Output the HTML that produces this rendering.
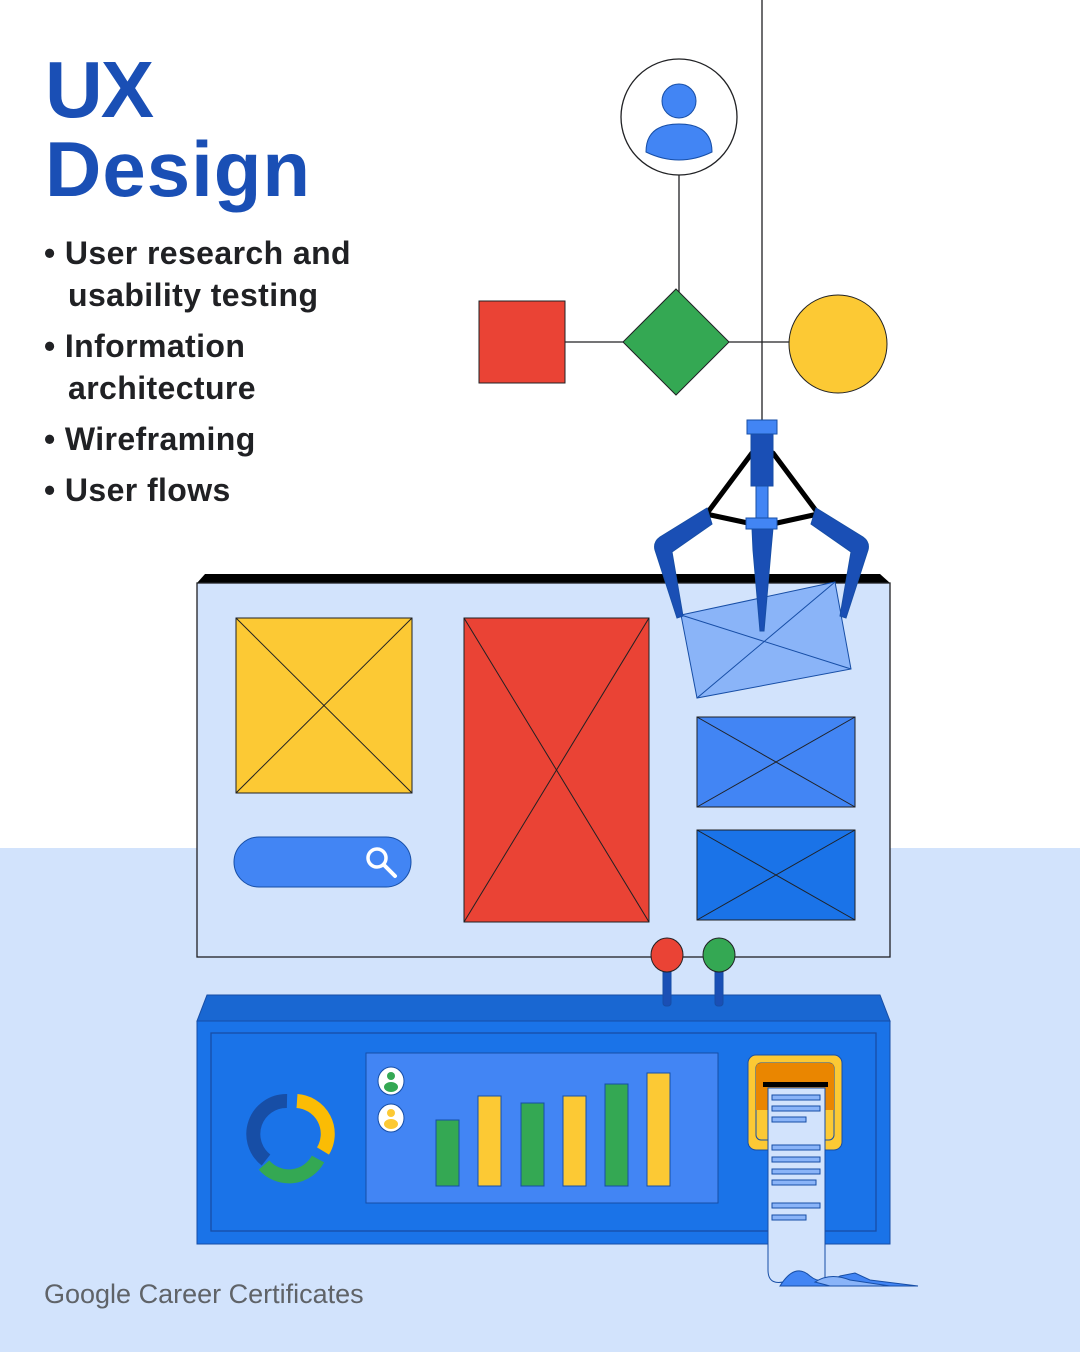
<!DOCTYPE html>
<html><head><meta charset="utf-8"><style>
html,body{margin:0;padding:0;width:1080px;height:1352px;overflow:hidden;background:#fff}
svg{display:block}
</style></head><body>
<svg width="1080" height="1352" viewBox="0 0 1080 1352" xmlns="http://www.w3.org/2000/svg" font-family="Liberation Sans, sans-serif">
<rect x="0" y="0" width="1080" height="848" fill="#fff"/>
<rect x="0" y="848" width="1080" height="504" fill="#d2e3fc"/>
<text x="45" y="117" font-size="80" font-weight="bold" fill="#1a4fb5" letter-spacing="-2">UX</text>
<text x="45" y="196" font-size="78" font-weight="bold" fill="#1a4fb5" letter-spacing="1">Design</text>
<g font-size="32" font-weight="bold" fill="#202124" letter-spacing="0.4">
<text x="44" y="264">• User research and</text>
<text x="68" y="306">usability testing</text>
<text x="44" y="357">• Information</text>
<text x="68" y="399">architecture</text>
<text x="44" y="450">• Wireframing</text>
<text x="44" y="501">• User flows</text>
</g>
<g stroke="#202124" stroke-width="1.3" fill="none">
<line x1="762" y1="0" x2="762" y2="420"/>
<line x1="679" y1="175" x2="679" y2="292"/>
<line x1="565" y1="342" x2="790" y2="342"/>
</g>
<circle cx="679" cy="117" r="58" fill="#fff" stroke="#202124" stroke-width="1.3"/>
<circle cx="679" cy="101" r="17" fill="#4285f4" stroke="#174ea6"/>
<path d="M646 152 Q646 124 679 124 Q712 124 712 152 Q679 168 646 152Z" fill="#4285f4" stroke="#174ea6"/>
<rect x="479" y="301" width="86" height="82" fill="#ea4335" stroke="#202124"/>
<polygon points="676,289 729,342 676,395 623,342" fill="#34a853" stroke="#202124"/>
<circle cx="838" cy="344" r="49" fill="#fcc934" stroke="#202124"/>
<polygon points="197,583 205,574 880,574 890,583" fill="#000"/>
<rect x="197" y="583" width="693" height="374" fill="#d2e3fc" stroke="#202124" stroke-width="1.3"/>
<g stroke="#202124" stroke-width="1">
<rect x="236" y="618" width="176" height="175" fill="#fcc934"/>
<line x1="236" y1="618" x2="412" y2="793"/><line x1="412" y1="618" x2="236" y2="793"/>
<rect x="464" y="618" width="185" height="304" fill="#ea4335"/>
<line x1="464" y1="618" x2="649" y2="922"/><line x1="649" y1="618" x2="464" y2="922"/>
<rect x="697" y="717" width="158" height="90" fill="#4285f4"/>
<line x1="697" y1="717" x2="855" y2="807"/><line x1="855" y1="717" x2="697" y2="807"/>
<rect x="697" y="830" width="158" height="90" fill="#1a73e8"/>
<line x1="697" y1="830" x2="855" y2="920"/><line x1="855" y1="830" x2="697" y2="920"/>
<rect x="234" y="837" width="177" height="50" rx="25" fill="#4285f4" stroke="#174ea6"/>
<polygon points="681,615 835,582 851,669 697,698" fill="#8ab4f8" stroke="#174ea6"/>
<line x1="681" y1="615" x2="851" y2="669" stroke="#174ea6"/><line x1="835" y1="582" x2="697" y2="698" stroke="#174ea6"/>
</g>
<circle cx="377" cy="858" r="9" fill="none" stroke="#fff" stroke-width="3.5"/>
<line x1="384" y1="865" x2="395" y2="876" stroke="#fff" stroke-width="4" stroke-linecap="round"/>
<g stroke="#000" stroke-width="5" stroke-linecap="round">
<line x1="752" y1="453" x2="708" y2="512"/><line x1="773" y1="453" x2="817" y2="512"/>
<line x1="706" y1="514" x2="748" y2="523"/><line x1="777" y1="523" x2="818" y2="514"/>
</g>
<g stroke="#174ea6" stroke-width="1">
<path d="M707 508 L660 537 Q653 542 655 550 L677 618 L683 616 L672 552 L712 524Z" fill="#1a4fb5"/>
<path d="M816 508 L863 537 Q870 542 868 550 L846 618 L840 616 L851 552 L811 524Z" fill="#1a4fb5"/>
<rect x="747" y="420" width="30" height="14" fill="#4285f4"/>
<rect x="751" y="434" width="22" height="52" fill="#1a4fb5"/>
<rect x="756" y="486" width="12" height="33" fill="#4285f4"/>
<path d="M752 528 L773 528 L771 550 L764 631 L760 631 L753 550Z" fill="#1a4fb5"/>
<rect x="746" y="518" width="31" height="11" fill="#4285f4"/>
</g>
<polygon points="197,1021 207,995 880,995 890,1021" fill="#1967d2" stroke="#174ea6"/>
<rect x="197" y="1021" width="693" height="223" fill="#1a73e8" stroke="#174ea6"/>
<rect x="211" y="1033" width="665" height="198" fill="#1a73e8" stroke="#174ea6" stroke-width="1.3"/>
<rect x="663" y="968" width="8" height="38" rx="3" fill="#1a4fb5" stroke="#174ea6"/>
<rect x="715" y="968" width="8" height="38" rx="3" fill="#1a4fb5" stroke="#174ea6"/>
<ellipse cx="667" cy="955" rx="16" ry="17" fill="#ea4335" stroke="#202124"/>
<ellipse cx="719" cy="955" rx="16" ry="17" fill="#34a853" stroke="#202124"/>
<rect x="366" y="1053" width="352" height="150" fill="#4285f4" stroke="#174ea6"/>
<g stroke="#174ea6">
<rect x="436" y="1120" width="23" height="66" fill="#34a853"/>
<rect x="478" y="1096" width="23" height="90" fill="#fcc934"/>
<rect x="521" y="1103" width="23" height="83" fill="#34a853"/>
<rect x="563" y="1096" width="23" height="90" fill="#fcc934"/>
<rect x="605" y="1084" width="23" height="102" fill="#34a853"/>
<rect x="647" y="1073" width="23" height="113" fill="#fcc934"/>
<ellipse cx="391" cy="1081" rx="13" ry="14" fill="#fff"/>
<ellipse cx="391" cy="1118" rx="13" ry="14" fill="#fff"/>
</g>
<circle cx="391" cy="1076" r="4" fill="#34a853"/><ellipse cx="391" cy="1087" rx="7" ry="5" fill="#34a853"/>
<circle cx="391" cy="1113" r="4" fill="#fcc934"/><ellipse cx="391" cy="1124" rx="7" ry="5" fill="#fcc934"/>
<g fill="none" stroke-width="14" stroke-linecap="butt">
<path d="M266 1160 A33 33 0 0 1 287 1101" stroke="#174ea6"/>
<path d="M297 1101 A33 33 0 0 1 323 1151" stroke="#fbbc04"/>
<path d="M318 1159 A33 33 0 0 1 264 1165" stroke="#34a853"/>
</g>
<path d="M766 1088 L825 1088" stroke="none"/>
<rect x="748" y="1055" width="94" height="95" rx="8" fill="#fcc934" stroke="#174ea6"/>
<rect x="756" y="1063" width="78" height="77" rx="5" fill="#fcc934" stroke="#174ea6"/>
<path d="M756 1068 Q756 1063 761 1063 L829 1063 Q834 1063 834 1068 L834 1110 L756 1110Z" fill="#ea8600"/>
<path d="M768 1088 L825 1088 L825 1280 L790 1280 Q768 1288 768 1270Z" fill="#d2e3fc" stroke="#174ea6"/>
<rect x="763" y="1082" width="65" height="5" fill="#000"/>
<g fill="#8ab4f8" stroke="#174ea6">
<rect x="772" y="1095" width="48" height="5"/><rect x="772" y="1106" width="48" height="5"/><rect x="772" y="1117" width="34" height="5"/>
<rect x="772" y="1145" width="48" height="5"/><rect x="772" y="1157" width="48" height="5"/><rect x="772" y="1169" width="48" height="5"/><rect x="772" y="1180" width="44" height="5"/>
<rect x="772" y="1203" width="48" height="5"/><rect x="772" y="1215" width="34" height="5"/>
</g>
<path d="M780 1286 Q795 1262 810 1276 Q822 1286 840 1276 L855 1273 L870 1280 L918 1286Z" fill="#4285f4" stroke="#174ea6"/>
<path d="M815 1282 Q830 1272 850 1280 L890 1286 L830 1286Z" fill="#8ab4f8" stroke="#174ea6"/>
<text x="44" y="1303" font-size="27" fill="#5f6368" letter-spacing="0">Google Career Certificates</text>
</svg>
</body></html>
